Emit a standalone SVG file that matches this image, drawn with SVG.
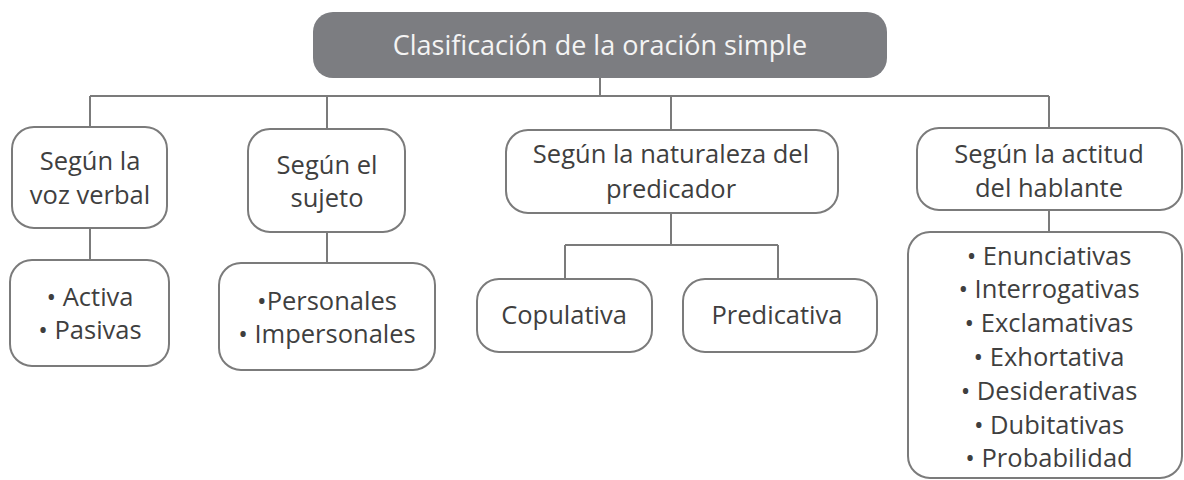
<svg xmlns="http://www.w3.org/2000/svg" width="1184" height="480" viewBox="0 0 1184 480">
<style>
.box{fill:#ffffff;stroke:#7b7b7b;stroke-width:2}
.t{font-family:"Open Sans","Noto Sans","Liberation Sans",sans-serif;font-size:25.5px;fill:#3f3f3f;text-anchor:middle}
.title{font-family:"Open Sans","Noto Sans","Liberation Sans",sans-serif;font-size:27px;fill:#f4f4f4;text-anchor:middle}
.c{fill:none;stroke:#7b7b7b;stroke-width:2}
</style>
<rect width="1184" height="480" fill="#ffffff"/>
<g id="connectors">
<path class="c" d="M600,78 V96 M90,96 H1049 M90,96 V127 M327,96 V129 M671,96 V130 M1049,96 V128"/>
<path class="c" d="M90,228 V260 M327,232 V263 M671,213 V245 M565,245 H778 M565,245 V279 M778,245 V279 M1049,210 V232"/>
</g>
<g id="root">
<rect x="313" y="12" width="574" height="66" rx="20" fill="#7c7d81"/>
<text class="title" x="600" y="55">Clasificación de la oración simple</text>
</g>
<g id="voz">
<rect class="box" x="12" y="127" width="155" height="101" rx="22"/>
<text class="t" x="90" y="170">Según la</text>
<text class="t" x="90" y="204">voz verbal</text>
</g>
<g id="voz-items">
<rect class="box" x="10" y="260" width="159" height="106" rx="22"/>
<text class="t" x="90" y="306">• Activa</text>
<text class="t" x="90" y="339">• Pasivas</text>
</g>
<g id="sujeto">
<rect class="box" x="248" y="129" width="157" height="103" rx="22"/>
<text class="t" x="327" y="174">Según el</text>
<text class="t" x="327" y="207">sujeto</text>
</g>
<g id="sujeto-items">
<rect class="box" x="219" y="263" width="216" height="107" rx="22"/>
<text class="t" x="327" y="310">•Personales</text>
<text class="t" x="327" y="343">• Impersonales</text>
</g>
<g id="naturaleza">
<rect class="box" x="506" y="130" width="332" height="83" rx="22"/>
<text class="t" x="671" y="163">Según la naturaleza del</text>
<text class="t" x="671" y="198">predicador</text>
</g>
<g id="copulativa">
<rect class="box" x="477" y="279" width="175" height="73" rx="22"/>
<text class="t" x="564" y="324">Copulativa</text>
</g>
<g id="predicativa">
<rect class="box" x="683" y="279" width="194" height="73" rx="22"/>
<text class="t" x="777" y="324">Predicativa</text>
</g>
<g id="actitud">
<rect class="box" x="917" y="128" width="265" height="82" rx="22"/>
<text class="t" x="1049" y="163">Según la actitud</text>
<text class="t" x="1049" y="197">del hablante</text>
</g>
<g id="actitud-items">
<rect class="box" x="908" y="232" width="274" height="246" rx="22"/>
<text class="t" x="1049" y="265">• Enunciativas</text>
<text class="t" x="1049" y="298">• Interrogativas</text>
<text class="t" x="1049" y="332">• Exclamativas</text>
<text class="t" x="1049" y="366">• Exhortativa</text>
<text class="t" x="1049" y="400">• Desiderativas</text>
<text class="t" x="1049" y="434">• Dubitativas</text>
<text class="t" x="1049" y="467">• Probabilidad</text>
</g>
</svg>
